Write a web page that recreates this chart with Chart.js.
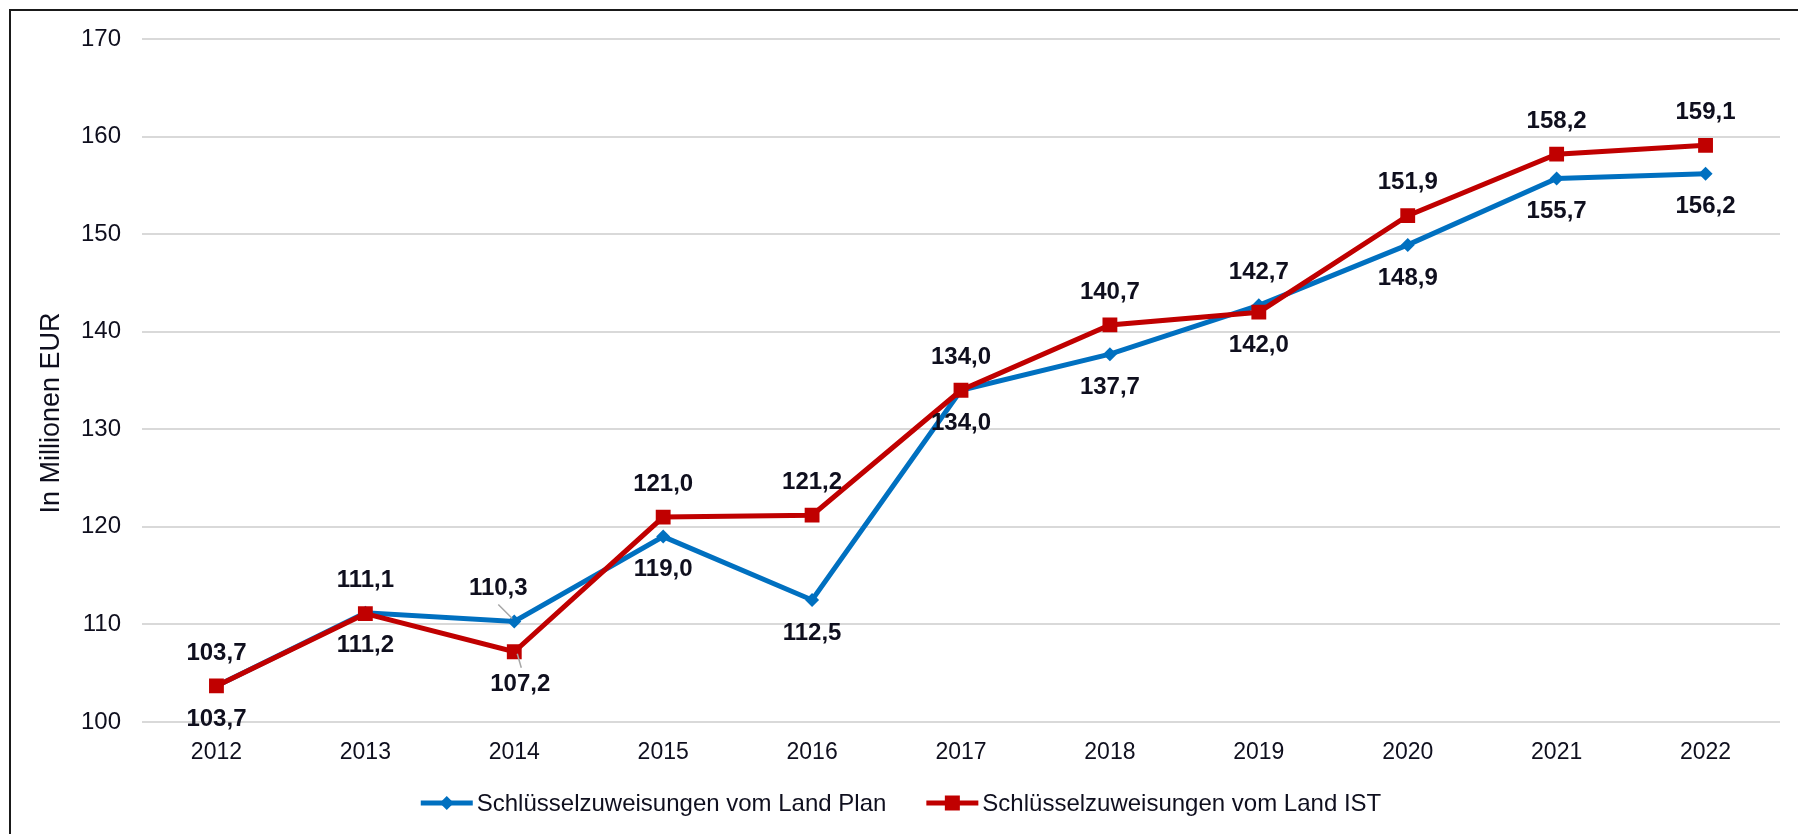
<!DOCTYPE html>
<html>
<head>
<meta charset="utf-8">
<script src="https://cdn.jsdelivr.net/npm/chart.js@4.4.1/dist/chart.umd.min.js"></script>
<style>
  html, body { margin: 0; padding: 0; background: #fff; }
  #wrap { position: relative; width: 1798px; height: 834px; }
</style>
</head>
<body>
<div id="wrap"><canvas id="chart" width="1798" height="834"></canvas></div>
<script>
const years     = ['2012', '2013', '2014', '2015', '2016', '2017', '2018', '2019', '2020', '2021', '2022']
const planVals  = [103.7, 111.2, 110.3, 119.0, 112.5, 134.0, 137.7, 142.7, 148.9, 155.7, 156.2]
const istVals   = [103.7, 111.1, 107.2, 121.0, 121.2, 134.0, 140.7, 142.0, 151.9, 158.2, 159.1]
const yTicks    = [100, 110, 120, 130, 140, 150, 160, 170]

const planName  = 'Schlüsselzuweisungen vom Land Plan'
const istName   = 'Schlüsselzuweisungen vom Land IST'
const yTitle    = 'In Millionen EUR'

// label placement: +1 below the point, -1 above
const planSide  = [1, 1, -1, 1, 1, 1, 1, -1, 1, 1, 1]
const istSide   = [-1, -1, 1, -1, -1, -1, -1, 1, -1, -1, -1]

const BLUE = '#0070c0'
const RED  = '#c00000'
const TXT  = '#0f0f1e'
const FONT = '"Liberation Sans", Arial, sans-serif'

const fmt = v => v.toFixed(1).replace('.', ',')

const labelsPlugin = {
  id: 'pointLabels',
  afterDatasetsDraw(chart) {
    const ctx = chart.ctx
    ctx.save()
    ctx.font = `bold 24px ${FONT}`
    ctx.fillStyle = TXT
    ctx.textAlign = 'center'
    ctx.textBaseline = 'middle'
    chart.data.datasets.forEach((ds, di) => {
      const meta  = chart.getDatasetMeta(di)
      const sides = ds.labelSide
      meta.data.forEach((pt, i) => {
        let dx = 0
        const dy = sides[i] * 33
        // 2014 labels are pushed aside with a small leader line
        if (i === 2) {
          dx = ds.label === planName ? -16 : 6
          ctx.save()
          ctx.strokeStyle = '#a6a6a6'
          ctx.lineWidth = 1.5
          ctx.beginPath()
          if (sides[i] < 0) {
            ctx.moveTo(pt.x - 16, pt.y - 17)
            ctx.lineTo(pt.x - 2, pt.y - 3)
          } else {
            ctx.moveTo(pt.x + 3, pt.y + 2)
            ctx.lineTo(pt.x + 7, pt.y + 16)
          }
          ctx.stroke()
          ctx.restore()
        }
        ctx.fillText(fmt(ds.data[i]), pt.x + dx, pt.y + dy)
      })
    })
    ctx.restore()
  }
}

const frameLegendPlugin = {
  id: 'frameLegend',
  afterDraw(chart) {
    const ctx = chart.ctx
    ctx.save()
    // outer frame
    ctx.strokeStyle = '#1a1a1a'
    ctx.lineWidth = 2
    ctx.strokeRect(10, 10, chart.width + 20, chart.height + 20)

    // y axis title, sits a bit below the axis middle
    ctx.save()
    ctx.translate(52, 413)
    ctx.rotate(-Math.PI / 2)
    ctx.font = `27px ${FONT}`
    ctx.fillStyle = TXT
    ctx.textAlign = 'center'
    ctx.textBaseline = 'middle'
    ctx.fillText(yTitle, 0, 0)
    ctx.restore()

    // legend
    ctx.font = `24px ${FONT}`
    ctx.textBaseline = 'middle'
    ctx.textAlign = 'left'
    const items = [
      { text: planName, color: BLUE, shape: 'diamond' },
      { text: istName,  color: RED,  shape: 'square' },
    ]
    const lineW = 52, gapT = 4, gapItem = 40
    const widths = items.map(it => lineW + gapT + ctx.measureText(it.text).width)
    const total  = widths.reduce((a, b) => a + b, 0) + gapItem
    let x = chart.width / 2 - total / 2 + 2
    const y = 803
    items.forEach((it, k) => {
      ctx.strokeStyle = it.color
      ctx.fillStyle = it.color
      ctx.lineWidth = 5
      ctx.beginPath()
      ctx.moveTo(x, y)
      ctx.lineTo(x + lineW, y)
      ctx.stroke()
      const cx = x + lineW / 2
      ctx.beginPath()
      if (it.shape === 'diamond') {
        ctx.moveTo(cx, y - 7); ctx.lineTo(cx + 7, y); ctx.lineTo(cx, y + 7); ctx.lineTo(cx - 7, y)
      } else {
        ctx.rect(cx - 7.5, y - 7.5, 15, 15)
      }
      ctx.closePath()
      ctx.fill()
      ctx.fillStyle = TXT
      ctx.fillText(it.text, x + lineW + gapT, y + 1)
      x += widths[k] + gapItem
    })
    ctx.restore()
  }
}

new Chart(document.getElementById('chart'), {
  type: 'line',
  data: {
    labels: years,
    datasets: [
      {
        label: planName,
        data: planVals,
        labelSide: planSide,
        borderColor: BLUE,
        backgroundColor: BLUE,
        borderWidth: 5,
        pointStyle: 'rectRot',
        pointRadius: 7,
        pointBorderWidth: 0,
        pointBackgroundColor: BLUE,
        order: 1,
      },
      {
        label: istName,
        data: istVals,
        labelSide: istSide,
        borderColor: RED,
        backgroundColor: RED,
        borderWidth: 5,
        pointStyle: 'rect',
        pointRadius: 10.5,
        pointBorderWidth: 0,
        pointBackgroundColor: RED,
        order: 0,
      },
    ],
  },
  options: {
    responsive: false,
    animation: false,
    layout: { padding: { left: 36, right: 18, top: 39, bottom: 52 } },
    plugins: {
      legend: { display: false },
      tooltip: { enabled: false },
    },
    scales: {
      x: {
        offset: true,
        grid: { display: false, drawTicks: false },
        border: { display: false },
        ticks: { color: TXT, font: { family: FONT, size: 23 }, padding: 17, maxRotation: 0 },
        afterFit: s => { s.height = 60 },
      },
      y: {
        min: yTicks[0],
        max: yTicks[yTicks.length - 1],
        afterBuildTicks: s => { s.ticks = yTicks.map(v => ({ value: v })) },
        grid: { color: '#d9d9d9', lineWidth: 2, drawTicks: false },
        border: { display: false },
        ticks: { color: TXT, font: { family: FONT, size: 24 }, padding: 21 },
        afterFit: s => { s.width = 106 },
      },
    },
  },
  plugins: [labelsPlugin, frameLegendPlugin],
})
</script>
</body>
</html>
